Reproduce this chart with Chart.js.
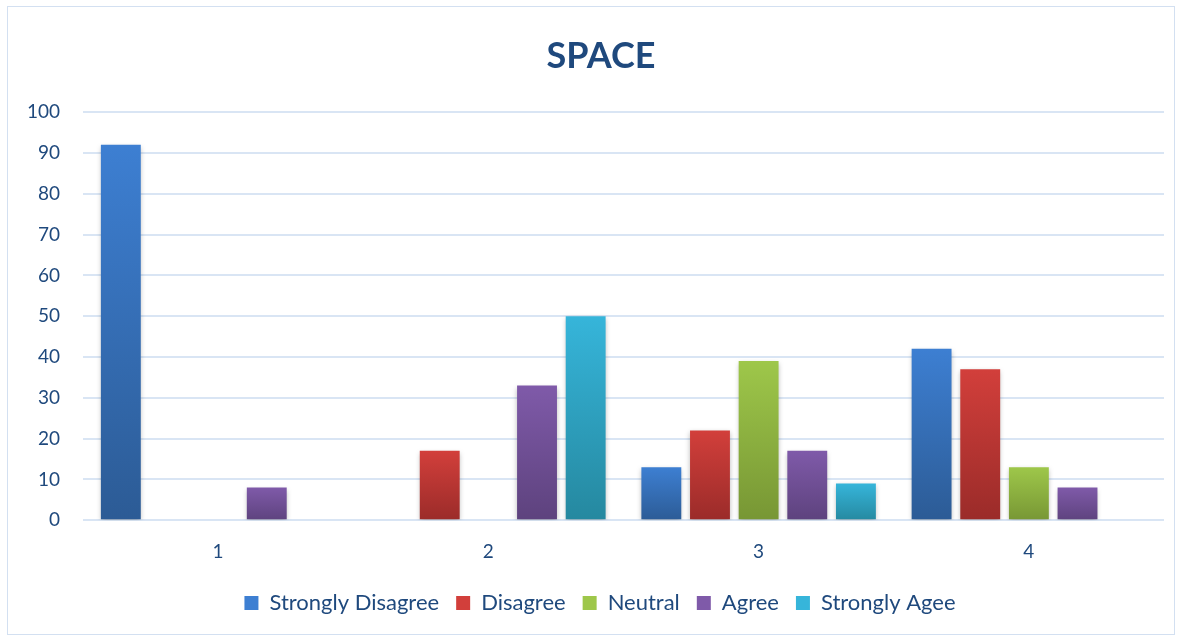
<!DOCTYPE html>
<html>
<head>
<meta charset="utf-8">
<script src="https://cdn.jsdelivr.net/npm/chart.js@4/dist/chart.umd.min.js"></script>
<style>
    html, body { margin: 0; padding: 0; background: #ffffff; }
    .frame {
        position: absolute;
        left: 7px; top: 6px;
        width: 1168px; height: 629px;
        border: 1px solid #d3e0f1;
        box-sizing: border-box;
    }
    .frame canvas { display: block; }
</style>
</head>
<body>
<div class="frame"><canvas id="space-chart" width="1166" height="627"></canvas></div>
<script>
const categories = ['1', '2', '3', '4'];
const seriesNames = ['Strongly Disagree', 'Disagree', 'Neutral', 'Agree', 'Strongly Agee'];
const stronglyDisagree = [92, 0, 13, 42];
const disagree = [0, 17, 22, 37];
const neutral = [0, 0, 39, 13];
const agree = [8, 33, 17, 8];
const stronglyAgee = [0, 50, 9, 0];
const yTicks = [0, 10, 20, 30, 40, 50, 60, 70, 80, 90, 100];

// light top / dark bottom for each series
const seriesColors = [
    ['#3d7fd2', '#2c5b95'],
    ['#d23f3b', '#9a2b29'],
    ['#9ec74a', '#779634'],
    ['#7f5aa9', '#5d427d'],
    ['#36b5da', '#25889f']
];

const textColor = '#1f497d';
const fontFamily = 'Lato, "Open Sans", sans-serif';

function barGradient(seriesIndex) {
    return function (context) {
        const chart = context.chart;
        const yScale = chart.scales.y;
        if (!yScale || context.type !== 'data') {
            return seriesColors[seriesIndex][0];
        }
        const top = yScale.getPixelForValue(context.raw || 0);
        const bottom = yScale.getPixelForValue(0);
        const gradient = chart.ctx.createLinearGradient(0, top, 0, bottom + 1);
        gradient.addColorStop(0, seriesColors[seriesIndex][0]);
        gradient.addColorStop(1, seriesColors[seriesIndex][1]);
        return gradient;
    }
}

const seriesValues = [stronglyDisagree, disagree, neutral, agree, stronglyAgee];
const datasets = seriesNames.map((name, i) => ({
    label: name,
    data: seriesValues[i],
    backgroundColor: barGradient(i),
    borderWidth: 0,
    categoryPercentage: 0.9,
    barPercentage: 0.82
}));

// soft shadow under the bars
const barShadow = {
    id: 'barShadow',
    beforeDatasetsDraw(chart) {
        const ctx = chart.ctx;
        ctx.save();
        ctx.shadowColor = 'rgba(0, 0, 0, 0.28)';
        ctx.shadowBlur = 5;
        ctx.shadowOffsetX = 0;
        ctx.shadowOffsetY = 2;
    },
    afterDatasetsDraw(chart) {
        chart.ctx.restore();
    }
}

// title and legend sit a bit right of the canvas centre
const shiftHeaderFooter = {
    id: 'shiftHeaderFooter',
    afterLayout(chart) {
        chart.titleBlock.left += 15;
        chart.titleBlock.right += 15;
        chart.legend.left += 14;
        chart.legend.right += 14;
    }
}

const spaceChart = new Chart(document.getElementById('space-chart'), {
    type: 'bar',
    data: {
        labels: categories,
        datasets: datasets
    },
    options: {
        responsive: false,
        animation: false,
        layout: {
            padding: {left: 0, right: 10, top: 24, bottom: 10}
        },
        plugins: {
            title: {
                display: true,
                text: 'SPACE',
                color: textColor,
                font: {family: fontFamily, size: 36, weight: 'bold'},
                padding: {top: 4, bottom: 34}
            },
            legend: {
                position: 'bottom',
                labels: {
                    color: textColor,
                    font: {family: fontFamily, size: 22},
                    boxWidth: 14,
                    boxHeight: 14,
                    padding: 17,
                    generateLabels(chart) {
                        return seriesNames.map((name, i) => ({
                            text: name,
                            fillStyle: seriesColors[i][0],
                            strokeStyle: seriesColors[i][0],
                            lineWidth: 0,
                            datasetIndex: i,
                            fontColor: textColor
                        }));
                    }
                }
            },
            tooltip: {enabled: false}
        },
        scales: {
            x: {
                grid: {display: false},
                border: {display: false},
                ticks: {
                    color: textColor,
                    font: {family: fontFamily, size: 19},
                    padding: 12
                }
            },
            y: {
                min: 0,
                max: 100,
                afterBuildTicks(axis) {
                    axis.ticks = yTicks.map(v => ({value: v}));
                },
                afterFit(axis) {
                    axis.width = 75;
                },
                grid: {color: '#d9e5f4', lineWidth: 2, drawTicks: false},
                border: {display: false},
                ticks: {
                    color: textColor,
                    font: {family: fontFamily, size: 19},
                    padding: 23
                }
            }
        }
    },
    plugins: [barShadow, shiftHeaderFooter]
});
</script>
</body>
</html>
